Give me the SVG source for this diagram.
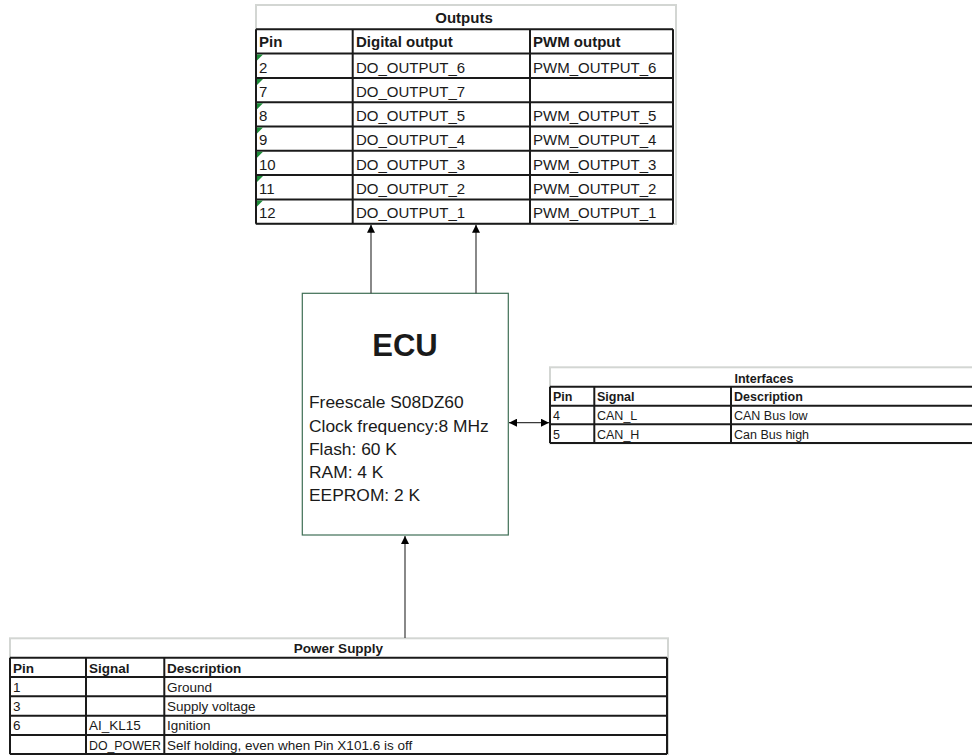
<svg xmlns="http://www.w3.org/2000/svg" width="972" height="755" viewBox="0 0 972 755">
<style>
text{font-family:"Liberation Sans",Arial,sans-serif;fill:#1a1a1a}
.t15{font-size:15px}
.b15{font-size:15px;font-weight:bold}
.t12{font-size:12.5px}
.b12{font-size:12.5px;font-weight:bold}
.t13{font-size:13.5px}
.b13{font-size:13.5px;font-weight:bold}
.gray{fill:none;stroke:#d3d6d3;stroke-width:2}
.grid{stroke:#1a1a1a;stroke-width:2;fill:none}
.tri{fill:#1e8c3a}
.conn{stroke:#3a3a3a;stroke-width:1.2;fill:none}
</style>
<defs>
<marker id="ah" viewBox="0 0 10 10" refX="10" refY="5" markerWidth="8" markerHeight="8" markerUnits="userSpaceOnUse" orient="auto-start-reverse">
<path d="M0,0 L10,5 L0,10 z" fill="#000"/>
</marker>
</defs>
<rect width="972" height="755" fill="#fff"/>

<g id="outputs">
<rect class="gray" x="256" y="5" width="420" height="219"/>
<text class="b15" x="464" y="23" text-anchor="middle">Outputs</text>
<g class="grid">
<line x1="256" y1="29.3" x2="673" y2="29.3"/>
<line x1="256" y1="53.6" x2="673" y2="53.6"/>
<line x1="256" y1="77.9" x2="673" y2="77.9"/>
<line x1="256" y1="102.2" x2="673" y2="102.2"/>
<line x1="256" y1="126.5" x2="673" y2="126.5"/>
<line x1="256" y1="150.8" x2="673" y2="150.8"/>
<line x1="256" y1="175.1" x2="673" y2="175.1"/>
<line x1="256" y1="199.4" x2="673" y2="199.4"/>
<line x1="256" y1="223.7" x2="673" y2="223.7"/>
<line x1="256" y1="29.3" x2="256" y2="223.7"/>
<line x1="352.7" y1="29.3" x2="352.7" y2="223.7"/>
<line x1="530" y1="29.3" x2="530" y2="223.7"/>
<line x1="673" y1="29.3" x2="673" y2="223.7"/>
</g>
<text class="b15" x="259" y="47">Pin</text>
<text class="b15" x="356" y="47">Digital output</text>
<text class="b15" x="533" y="47">PWM output</text>
<g>
<polygon class="tri" points="257,54.6 263,54.6 257,60.6"/>
<polygon class="tri" points="257,78.9 263,78.9 257,84.9"/>
<polygon class="tri" points="257,103.2 263,103.2 257,109.2"/>
<polygon class="tri" points="257,127.5 263,127.5 257,133.5"/>
<polygon class="tri" points="257,151.8 263,151.8 257,157.8"/>
<polygon class="tri" points="257,176.1 263,176.1 257,182.1"/>
<polygon class="tri" points="257,200.4 263,200.4 257,206.4"/>
</g>
<text class="t15" x="259" y="72.5">2</text>
<text class="t15" x="356" y="72.5">DO_OUTPUT_6</text>
<text class="t15" x="533" y="72.5">PWM_OUTPUT_6</text>
<text class="t15" x="259" y="96.8">7</text>
<text class="t15" x="356" y="96.8">DO_OUTPUT_7</text>
<text class="t15" x="259" y="121.1">8</text>
<text class="t15" x="356" y="121.1">DO_OUTPUT_5</text>
<text class="t15" x="533" y="121.1">PWM_OUTPUT_5</text>
<text class="t15" x="259" y="145.4">9</text>
<text class="t15" x="356" y="145.4">DO_OUTPUT_4</text>
<text class="t15" x="533" y="145.4">PWM_OUTPUT_4</text>
<text class="t15" x="259" y="169.7">10</text>
<text class="t15" x="356" y="169.7">DO_OUTPUT_3</text>
<text class="t15" x="533" y="169.7">PWM_OUTPUT_3</text>
<text class="t15" x="259" y="194">11</text>
<text class="t15" x="356" y="194">DO_OUTPUT_2</text>
<text class="t15" x="533" y="194">PWM_OUTPUT_2</text>
<text class="t15" x="259" y="218.3">12</text>
<text class="t15" x="356" y="218.3">DO_OUTPUT_1</text>
<text class="t15" x="533" y="218.3">PWM_OUTPUT_1</text>
</g>

<g id="ecu">
<rect x="302.3" y="293.3" width="206" height="241.7" fill="#fff" stroke="#3f6e55" stroke-width="1.2"/>
<text x="405" y="356" text-anchor="middle" style="font-size:31px;font-weight:bold">ECU</text>
<text x="309" y="408.3" style="font-size:17.4px">Freescale S08DZ60</text>
<text x="309" y="431.7" style="font-size:17.4px">Clock frequency:8 MHz</text>
<text x="309" y="455" style="font-size:17.4px">Flash: 60 K</text>
<text x="309" y="478.3" style="font-size:17.4px">RAM: 4 K</text>
<text x="309" y="501.3" style="font-size:17.4px">EEPROM: 2 K</text>
</g>

<g id="interfaces">
<rect class="gray" x="550" y="367.3" width="440" height="76"/>
<text class="b12" x="764" y="382.5" text-anchor="middle">Interfaces</text>
<g class="grid">
<line x1="550" y1="386.7" x2="972" y2="386.7"/>
<line x1="550" y1="405.7" x2="972" y2="405.7"/>
<line x1="550" y1="424.3" x2="972" y2="424.3"/>
<line x1="550" y1="443" x2="972" y2="443"/>
<line x1="550" y1="386.7" x2="550" y2="443"/>
<line x1="594.3" y1="386.7" x2="594.3" y2="443"/>
<line x1="731" y1="386.7" x2="731" y2="443"/>
</g>
<text class="b12" x="553" y="401">Pin</text>
<text class="b12" x="597" y="401">Signal</text>
<text class="b12" x="734" y="401">Description</text>
<text class="t12" x="553" y="420">4</text>
<text class="t12" x="597" y="420">CAN_L</text>
<text class="t12" x="734" y="420">CAN Bus low</text>
<text class="t12" x="553" y="438.7">5</text>
<text class="t12" x="597" y="438.7">CAN_H</text>
<text class="t12" x="734" y="438.7">Can Bus high</text>
</g>

<g id="power_supply">
<rect class="gray" x="10" y="638.3" width="658" height="116"/>
<text class="b13" x="338.5" y="653.3" text-anchor="middle">Power Supply</text>
<g class="grid">
<line x1="10" y1="657.7" x2="667" y2="657.7"/>
<line x1="10" y1="677" x2="667" y2="677"/>
<line x1="10" y1="696.3" x2="667" y2="696.3"/>
<line x1="10" y1="715.7" x2="667" y2="715.7"/>
<line x1="10" y1="735" x2="667" y2="735"/>
<line x1="10" y1="754" x2="667" y2="754"/>
<line x1="10" y1="657.7" x2="10" y2="754"/>
<line x1="86" y1="657.7" x2="86" y2="754"/>
<line x1="164.3" y1="657.7" x2="164.3" y2="754"/>
<line x1="667" y1="657.7" x2="667" y2="754"/>
</g>
<text class="b13" x="13" y="672.5">Pin</text>
<text class="b13" x="89" y="672.5">Signal</text>
<text class="b13" x="167" y="672.5">Description</text>
<text class="t13" x="13" y="691.8">1</text>
<text class="t13" x="167" y="691.8">Ground</text>
<text class="t13" x="13" y="711.1">3</text>
<text class="t13" x="167" y="711.1">Supply voltage</text>
<text class="t13" x="13" y="730.4">6</text>
<text class="t13" x="89" y="730.4">AI_KL15</text>
<text class="t13" x="167" y="730.4">Ignition</text>
<text class="t13" x="89" y="749.7" textLength="72" lengthAdjust="spacingAndGlyphs">DO_POWER</text>
<text class="t13" x="167" y="749.7">Self holding, even when Pin X101.6 is off</text>
</g>

<g id="connectors">
<line class="conn" x1="371" y1="293.3" x2="371" y2="224.7" marker-end="url(#ah)"/>
<line class="conn" x1="476" y1="293.3" x2="476" y2="224.7" marker-end="url(#ah)"/>
<line class="conn" x1="509" y1="422.7" x2="549" y2="422.7" marker-start="url(#ah)" marker-end="url(#ah)"/>
<line class="conn" x1="405" y1="638" x2="405" y2="536" marker-end="url(#ah)"/>
</g>
</svg>
